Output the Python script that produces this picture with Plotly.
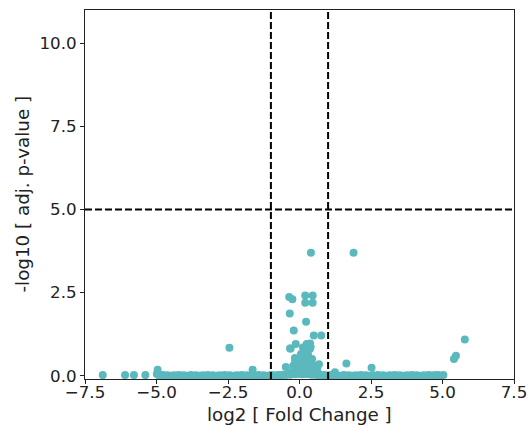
import plotly.graph_objects as go

# Genes with a noticeable adjusted p-value
hit_log2fc = [-6.88, -6.10, -5.79, -5.39, -4.99, -4.96, -2.45, -1.64, -0.48, -0.36,
              -0.25, -0.34, -0.20, -0.13, -0.31, -0.16, 0.40, 1.89, 0.20, 0.46,
              0.20, 0.46, 0.23, 0.50, 0.76, 0.25, 0.39, 0.25, 0.68, 1.24,
              1.64, 2.52, 5.03, 4.80, 5.40, 5.47, 5.78, -0.33, 0.37]
hit_nlog10p = [0.02, 0.02, 0.02, 0.02, 0.05, 0.18, 0.84, 0.18, 0.26, 2.37,
               2.30, 1.87, 1.36, 0.95, 0.82, 0.53, 3.70, 3.70, 2.41, 2.41,
               2.19, 2.19, 1.62, 1.21, 1.21, 0.95, 0.86, 0.68, 0.34, 0.10,
               0.37, 0.24, 0.02, 0.02, 0.50, 0.60, 1.09, 0.82, 0.97]

# Genes clustered near zero fold change
core_log2fc = [-0.30, -0.22, -0.15, -0.08, 0.00, 0.05, 0.10, 0.15, 0.18, 0.22,
               0.26, 0.30, 0.33, 0.36, 0.40, 0.44, 0.48, 0.55, 0.62, 0.12,
               0.28, 0.05, -0.05, 0.20, 0.35]
core_nlog10p = [0.10, 0.30, 0.42, 0.20, 0.35, 0.15, 0.55, 0.30, 0.75, 0.45,
                0.20, 0.62, 0.38, 0.80, 0.25, 0.50, 0.12, 0.30, 0.18, 0.85,
                0.90, 0.65, 0.50, 0.10, 0.08]

# Bulk of genes with essentially no significance
bulk_log2fc = [-4.92, -4.84, -4.77, -4.69, -4.62, -4.53, -4.46, -4.38, -4.29, -4.22,
               -4.14, -4.05, -3.96, -3.89, -3.80, -3.72, -3.63, -3.54, -3.47, -3.38,
               -3.30, -3.21, -3.13, -3.04, -2.96, -2.87, -2.79, -2.70, -2.62, -2.53,
               -2.45, -2.36, -2.28, -2.19, -2.11, -2.02, -1.94, -1.85, -1.77, -1.68,
               -1.60, -1.51, -1.43, -1.34, -1.26, -1.17, -1.09, -1.00, -0.92, -0.83,
               -0.75, -0.66, -0.58, -0.49, -0.41, -0.32, -0.24, -0.15, -0.07, 0.02,
               0.10, 0.19, 0.27, 0.36, 0.44, 0.53, 0.61, 0.70, 0.78, 0.87,
               0.95, 1.04, 1.12, 1.21, 1.29, 1.38, 1.46, 1.55, 1.63, 1.72,
               1.80, 1.89, 1.97, 2.06, 2.14, 2.23, 2.31, 2.40, 2.48, 2.57,
               2.65, 2.74, 2.82, 2.91, 2.99, 3.08, 3.16, 3.25, 3.33, 3.42,
               3.50, 3.59, 3.67, 3.76, 3.84, 3.93, 4.01, 4.10, 4.18, 4.27,
               4.35, 4.44, 4.52, 4.61, 4.69, 4.78, 4.86, 4.93]
bulk_nlog10p = [0.01, 0.00, 0.02, 0.00, 0.01, 0.00, 0.00, 0.01, 0.00, 0.02,
                0.00, 0.01, 0.00, 0.00, 0.02, 0.00, 0.01, 0.00, 0.00, 0.01,
                0.00, 0.02, 0.00, 0.01, 0.00, 0.00, 0.01, 0.00, 0.02, 0.00,
                0.01, 0.00, 0.00, 0.01, 0.00, 0.02, 0.00, 0.01, 0.00, 0.00,
                0.01, 0.00, 0.02, 0.00, 0.01, 0.00, 0.00, 0.02, 0.01, 0.00,
                0.02, 0.01, 0.03, 0.02, 0.04, 0.03, 0.05, 0.04, 0.06, 0.05,
                0.04, 0.06, 0.05, 0.04, 0.03, 0.04, 0.02, 0.03, 0.01, 0.02,
                0.00, 0.01, 0.02, 0.00, 0.01, 0.00, 0.00, 0.02, 0.00, 0.01,
                0.00, 0.00, 0.01, 0.00, 0.02, 0.00, 0.01, 0.00, 0.00, 0.01,
                0.00, 0.02, 0.00, 0.01, 0.00, 0.00, 0.01, 0.00, 0.02, 0.00,
                0.01, 0.00, 0.00, 0.01, 0.00, 0.02, 0.00, 0.01, 0.00, 0.00,
                0.01, 0.00, 0.02, 0.00, 0.01, 0.00, 0.01, 0.00]

# Significance thresholds
fc_cutoffs = [-1.0, 1.0]
p_cutoff = 5.0

x_ticks = [-7.5, -5.0, -2.5, 0.0, 2.5, 5.0, 7.5]
y_ticks = [0.0, 2.5, 5.0, 7.5, 10.0]

x_title = "log2 [ Fold Change ]"
y_title = "-log10 [ adj. p-value ]"

point_color = "#5bb9be"
ink = "#222"
font_family = "DejaVu Sans"

fig = go.Figure()
fig.add_trace(go.Scatter(
    x=bulk_log2fc + core_log2fc + hit_log2fc,
    y=bulk_nlog10p + core_nlog10p + hit_nlog10p,
    mode="markers",
    marker=dict(color=point_color, size=8, line=dict(width=0)),
    showlegend=False,
    hoverinfo="skip",
))

for xc in fc_cutoffs:
    fig.add_shape(type="line", xref="x", yref="paper", x0=xc, x1=xc, y0=0, y1=1,
                  line=dict(color="black", width=2, dash="7px,3px"))
fig.add_shape(type="line", xref="paper", yref="y", x0=0, x1=1, y0=p_cutoff, y1=p_cutoff,
              line=dict(color="black", width=2, dash="7px,3px"))

axis_common = dict(
    showline=True, linecolor=ink, linewidth=1, mirror=True,
    showgrid=False, zeroline=False, automargin=False,
    ticks="outside", ticklen=4, tickwidth=1, tickcolor=ink,
    tickfont=dict(family=font_family, size=16.7, color=ink),
    tickformat=".1f",
)

fig.update_xaxes(range=[-7.5, 7.5], tickvals=x_ticks, ticklabelstandoff=-6, **axis_common)
fig.update_yaxes(range=[-0.1, 11.0], tickvals=y_ticks, **axis_common)

# Axis titles placed as annotations
fig.add_annotation(text=x_title, xref="paper", yref="paper", x=0.5, y=0,
                   yshift=-35, xanchor="center", yanchor="middle", showarrow=False,
                   font=dict(family=font_family, size=18.3, color=ink))
fig.add_annotation(text=y_title, xref="paper", yref="paper", x=0, y=0.5,
                   xshift=-63, xanchor="center", yanchor="middle", showarrow=False,
                   textangle=-90, font=dict(family=font_family, size=18.3, color=ink))

fig.update_layout(
    width=529, height=428,
    margin=dict(l=85, r=15, t=10, b=49),
    paper_bgcolor="white", plot_bgcolor="white",
    font=dict(family=font_family, size=16, color=ink),
)

fig.write_html("out.html")
